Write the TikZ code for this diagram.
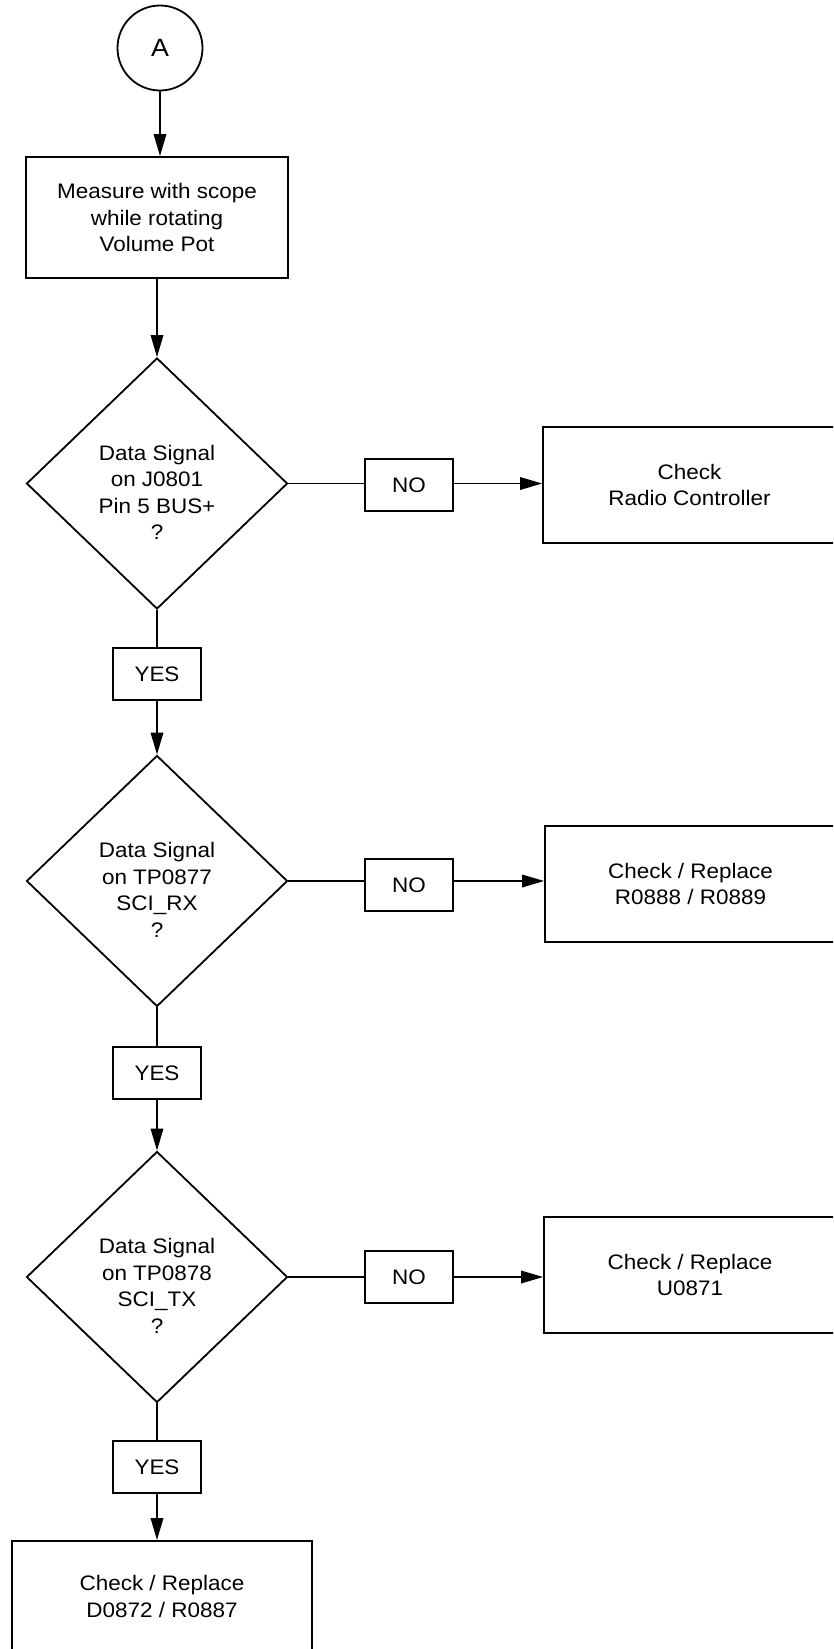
\documentclass[tikz,border=0pt]{standalone}
\usepackage{fontspec}
\setmainfont{Liberation Sans}[FakeStretch=1.07]
\usetikzlibrary{shapes.geometric,arrows.meta}
\begin{document}
\begin{tikzpicture}[x=1bp,y=-1bp,
  every node/.style={font=\fontsize{21bp}{26.5bp}\selectfont, align=center, inner sep=0pt, line width=1.8bp},
  box/.style={draw, rectangle},
  diam/.style={draw, diamond, minimum width=261bp, minimum height=251bp},
  tag/.style={draw, rectangle, minimum width=88bp, minimum height=52bp},
  conn/.style={line width=1.8bp},
  arr/.style={conn, -{Triangle[length=22bp,width=12.5bp]}},
  dtext/.style={yshift=-9bp, align=center}
]
\useasboundingbox (0,0) rectangle (833,1649);
\clip (0,0) rectangle (833,1649);

\node[draw, circle, minimum size=85bp, font=\fontsize{25bp}{30bp}\selectfont] (A) at (160,48) {A};
\node[box, minimum width=262bp, minimum height=121bp] (m1) at (157,217.5) {Measure with scope\\while rotating\\Volume Pot};

\node[diam, label={[dtext]center:{Data Signal\\on J0801\\Pin 5 BUS+\\?}}] (d1) at (157,483.5) {};
\node[tag] (no1) at (409,485) {NO};
\node[box, minimum width=293bp, minimum height=116bp] (r1) at (689.5,485) {Check\\Radio Controller};
\node[tag] (yes1) at (157,674) {YES};

\node[diam, label={[dtext]center:{Data Signal\\on TP0877\\SCI\_RX\\?}}] (d2) at (157,881) {};
\node[tag] (no2) at (409,885) {NO};
\node[box, minimum width=291bp, minimum height=116bp] (r2) at (690.5,884) {Check / Replace\\R0888 / R0889};
\node[tag] (yes2) at (157,1073) {YES};

\node[diam, label={[dtext]center:{Data Signal\\on TP0878\\SCI\_TX\\?}}] (d3) at (157,1277) {};
\node[tag] (no3) at (409,1277) {NO};
\node[box, minimum width=292bp, minimum height=116bp] (r3) at (690,1275) {Check / Replace\\U0871};
\node[tag] (yes3) at (157,1467) {YES};

\node[box, minimum width=300bp, minimum height=111bp] (b) at (162,1596.5) {Check / Replace\\D0872 / R0887};

\draw[arr] (A.south) -- (A.south |- m1.north);
\draw[arr] (m1.south) -- (d1.north);

\draw[conn] (d1.east) -- (no1.west |- d1.east);
\draw[arr] (no1.east |- d1.east) -- (r1.west |- d1.east);
\draw[conn] (d1.south) -- (yes1.north);
\draw[arr] (yes1.south) -- (d2.north);

\draw[conn] (d2.east) -- (no2.west |- d2.east);
\draw[arr] (no2.east |- d2.east) -- (r2.west |- d2.east);
\draw[conn] (d2.south) -- (yes2.north);
\draw[arr] (yes2.south) -- (d3.north);

\draw[conn] (d3.east) -- (no3.west |- d3.east);
\draw[arr] (no3.east |- d3.east) -- (r3.west |- d3.east);
\draw[conn] (d3.south) -- (yes3.north);
\draw[arr] (yes3.south) -- (yes3.south |- b.north);
\end{tikzpicture}
\end{document}
